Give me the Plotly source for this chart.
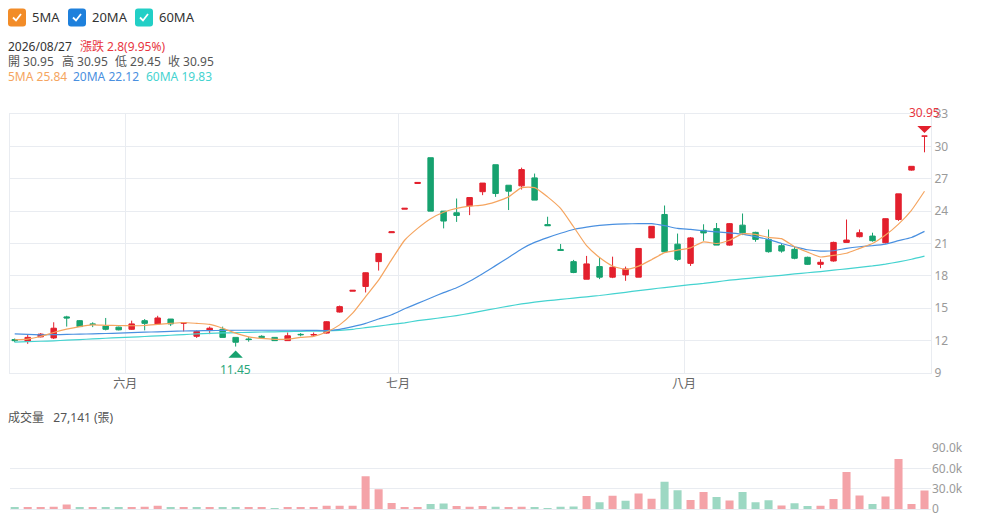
import pandas as pd
import plotly.graph_objects as go

# ---------------- data ----------------
HOLIDAYS = ["2026-06-19", "2026-07-24"]
DATES = [d for d in pd.bdate_range("2026-05-19", "2026-08-27").strftime("%Y-%m-%d") if d not in HOLIDAYS]
MONTH_NAMES = {5: "五月", 6: "六月", 7: "七月", 8: "八月"}

OPEN = [12.10, 11.92, 12.35, 12.25, 14.20, 13.85, 13.55, 13.35, 13.25, 13.05,
        13.85, 13.55, 14.00, 13.62, 12.40, 12.95, 13.05, 12.30, 12.15, 12.40,
        12.30, 12.00, 12.58, 12.52, 12.70, 14.65, 16.58, 17.02, 19.32, 22.00,
        24.18, 26.56, 28.95, 24.00, 23.85, 24.49, 25.80, 28.30, 26.40, 26.34,
        27.08, 22.75, 20.45, 19.32, 17.69, 18.86, 17.88, 18.09, 17.88, 21.52,
        23.69, 20.94, 19.16, 22.22, 22.38, 20.85, 22.70, 22.03, 21.38, 20.80,
        20.46, 19.72, 19.07, 19.38, 21.10, 21.63, 21.69, 21.07, 23.22, 27.80,
        30.95]
HIGH = [12.20, 12.55, 12.70, 13.70, 14.30, 13.90, 13.70, 14.10, 13.30, 13.85,
        14.00, 14.30, 14.00, 13.70, 12.95, 13.30, 13.30, 12.30, 12.35, 12.50,
        12.32, 12.75, 12.70, 12.75, 13.80, 15.25, 16.68, 18.31, 20.09, 22.10,
        24.28, 26.68, 28.95, 24.00, 25.17, 25.26, 26.60, 28.30, 26.40, 28.03,
        27.48, 23.48, 20.95, 19.48, 19.85, 19.68, 19.78, 18.86, 20.54, 22.59,
        24.52, 21.92, 21.60, 22.78, 22.90, 22.90, 23.78, 22.09, 22.30, 20.95,
        20.70, 19.78, 19.54, 21.17, 23.22, 22.30, 22.00, 23.32, 25.60, 28.15,
        30.95]
LOW = [11.85, 11.70, 12.30, 12.15, 13.30, 13.30, 13.25, 12.95, 12.95, 13.00,
       12.95, 13.50, 13.35, 12.85, 12.25, 12.60, 12.30, 11.45, 11.90, 12.25,
       11.98, 12.00, 12.40, 12.35, 12.65, 14.60, 16.58, 16.46, 18.49, 22.00,
       24.18, 26.56, 24.00, 22.40, 23.00, 23.63, 25.48, 25.32, 24.10, 26.00,
       25.02, 22.65, 20.35, 18.25, 17.69, 17.70, 17.79, 17.54, 17.88, 21.52,
       20.23, 19.40, 18.92, 21.25, 20.85, 20.80, 21.78, 21.16, 20.15, 20.15,
       19.54, 19.01, 18.71, 19.32, 21.10, 21.56, 21.17, 21.00, 23.10, 27.75,
       29.45]
CLOSE = [12.00, 12.30, 12.60, 13.15, 14.10, 13.30, 13.50, 13.05, 13.00, 13.55,
         13.60, 14.10, 13.55, 13.65, 12.85, 13.15, 12.30, 11.85, 12.10, 12.30,
         12.00, 12.45, 12.55, 12.56, 13.75, 15.15, 16.66, 18.29, 20.08, 22.08,
         24.26, 26.66, 24.00, 23.08, 23.60, 25.26, 26.60, 25.63, 25.85, 27.85,
         25.02, 22.65, 20.35, 18.31, 19.11, 17.88, 18.80, 18.64, 20.54, 22.59,
         20.23, 19.53, 21.52, 21.98, 20.85, 22.84, 21.99, 21.38, 20.24, 20.30,
         19.63, 19.07, 19.26, 21.10, 21.32, 22.00, 21.26, 23.30, 25.60, 28.15,
         30.95]
PREV_CLOSE = 12.10

VOLUME = [1500, 1500, 1500, 3400, 6800, 2900, 2400, 2900, 1900, 2900,
          3400, 4800, 2400, 2400, 1900, 1900, 2400, 2900, 1900, 1500,
          1000, 1500, 1500, 1900, 4800, 4800, 4800, 48400, 29000, 8700,
          2900, 2900, 7300, 8200, 4400, 3400, 4400, 3300, 2900, 3300,
          2400, 1400, 3300, 3800, 19100, 10000, 19600, 12000, 23000, 15300,
          40200, 27700, 13400, 24900, 17700, 12400, 24900, 10000, 12900, 5300,
          8600, 4300, 4800, 14800, 54500, 20100, 7200, 18600, 73600, 7200,
          27141]

MA5 = [12.08, 12.14, 12.38, 12.75, 13.06, 13.30, 13.46, 13.42, 13.40, 13.38,
       13.40, 13.50, 13.60, 13.68, 13.60, 13.50, 13.15, 12.69, 12.35, 12.20,
       12.12, 12.14, 12.30, 12.40, 12.80, 13.46, 14.54, 16.08, 17.60, 19.50,
       21.30, 22.40, 23.30, 23.90, 24.25, 24.46, 24.55, 24.86, 25.32, 26.18,
       26.18, 25.32, 24.25, 22.55, 20.80, 19.70, 18.92, 18.60, 18.90, 19.50,
       20.15, 20.38, 20.60, 21.15, 21.00, 21.30, 21.90, 21.84, 21.56, 21.45,
       20.70, 20.20, 19.75, 19.90, 20.10, 20.55, 21.00, 21.78, 22.80, 24.08,
       25.84]
MA20 = [12.63, 12.57, 12.54, 12.55, 12.58, 12.60, 12.63, 12.66, 12.70, 12.74,
        12.78, 12.82, 12.86, 12.89, 12.91, 12.93, 12.95, 12.96, 12.96, 12.96,
        12.96, 12.96, 12.96, 12.95, 12.93, 13.05, 13.30, 13.60, 14.00, 14.40,
        14.95, 15.45, 15.95, 16.45, 16.90, 17.50, 18.20, 18.95, 19.70, 20.50,
        21.10, 21.55, 21.95, 22.30, 22.52, 22.68, 22.78, 22.82, 22.84, 22.84,
        22.65, 22.40, 22.30, 22.18, 22.08, 21.98, 21.87, 21.63, 21.38, 21.00,
        20.70, 20.42, 20.30, 20.33, 20.55, 20.70, 20.80, 20.95, 21.26, 21.56,
        22.12]
MA60 = [11.86, 11.90, 11.94, 11.98, 12.04, 12.10, 12.16, 12.22, 12.28, 12.33,
        12.38, 12.44, 12.50, 12.56, 12.62, 12.67, 12.71, 12.74, 12.77, 12.80,
        12.82, 12.84, 12.86, 12.88, 12.90, 12.95, 13.05, 13.20, 13.35, 13.50,
        13.65, 13.85, 14.00, 14.15, 14.32, 14.52, 14.75, 14.98, 15.20, 15.40,
        15.56, 15.70, 15.82, 15.94, 16.06, 16.18, 16.33, 16.48, 16.63, 16.78,
        16.92, 17.05, 17.18, 17.30, 17.45, 17.60, 17.72, 17.83, 17.94, 18.05,
        18.18, 18.29, 18.40, 18.53, 18.65, 18.79, 18.92, 19.09, 19.30, 19.54,
        19.83]

PRICE_TICKS = [9, 12, 15, 18, 21, 24, 27, 30, 33]
VOL_TICKS = [0, 30000, 60000, 90000]
VOL_TICK_TEXT = ["0", "30.0k", "60.0k", "90.0k"]

# ---------------- style ----------------
W, H = 982, 519
RED = "#e3202d"
GREEN = "#17a26f"
VOL_RED = "#f4a3a8"
VOL_GREEN = "#9dd8c3"
C5, C20, C60 = "#f5a560", "#4a90e0", "#45d3d0"
GRID = "#e9ecf1"
FONT = "Noto Sans, Noto Sans CJK TC, sans-serif"
NB = "\u00a0"


def PX(x):
    return x / W


def PY(y):
    return 1 - y / H


X = list(range(len(DATES)))

# month boundaries
tickvals, ticktext = [], []
for i in range(1, len(DATES)):
    if DATES[i][5:7] != DATES[i - 1][5:7]:
        tickvals.append(i - 0.5)
        ticktext.append(MONTH_NAMES[int(DATES[i][5:7])])

prev = [PREV_CLOSE] + CLOSE[:-1]
vol_colors = [VOL_RED if c >= p else VOL_GREEN for c, p in zip(CLOSE, prev)]

fig = go.Figure()
fig.add_trace(go.Candlestick(
    x=X, open=OPEN, high=HIGH, low=LOW, close=CLOSE,
    increasing=dict(line=dict(color=RED, width=1), fillcolor=RED),
    decreasing=dict(line=dict(color=GREEN, width=1), fillcolor=GREEN),
    whiskerwidth=0, showlegend=False, hoverinfo="skip",
    xaxis="x", yaxis="y"))
for ma, col in ((MA60, C60), (MA20, C20), (MA5, C5)):
    fig.add_trace(go.Scatter(
        x=X, y=ma, mode="lines",
        line=dict(color=col, width=1.2, shape="spline", smoothing=0.5),
        showlegend=False, hoverinfo="skip", xaxis="x", yaxis="y"))
fig.add_trace(go.Bar(
    x=X, y=VOLUME, marker=dict(color=vol_colors, line=dict(width=0)),
    width=0.62, showlegend=False, hoverinfo="skip", xaxis="x2", yaxis="y2"))

x_dom = [PX(9.5), PX(931)]
xr = [-0.4, 70.5]

fig.update_layout(
    width=W, height=H, autosize=False, showlegend=False,
    margin=dict(l=0, r=0, t=0, b=0, pad=0, autoexpand=False),
    paper_bgcolor="white", plot_bgcolor="white",
    font=dict(family=FONT, size=12, color="#999"),
    boxgap=0.4,
    xaxis=dict(domain=x_dom, range=xr, anchor="y", automargin=False,
               tickvals=tickvals, ticktext=ticktext,
               tickfont=dict(size=12, color="#666"),
               showgrid=True, gridcolor=GRID, gridwidth=1,
               showline=True, linecolor=GRID, mirror=True,
               zeroline=False, ticks="", rangeslider=dict(visible=False),
               fixedrange=True),
    yaxis=dict(domain=[PY(373), PY(114)], range=[9, 33], anchor="x",
               automargin=False,
               side="right", tickvals=PRICE_TICKS,
               tickfont=dict(size=12, color="#9a9a9a"),
               showgrid=True, gridcolor=GRID, gridwidth=1,
               showline=True, linecolor=GRID, mirror=True,
               zeroline=False, ticks="", fixedrange=True),
    xaxis2=dict(domain=x_dom, range=xr, anchor="y2", automargin=False,
                showticklabels=False, showgrid=False,
                showline=True, linecolor=GRID,
                zeroline=False, ticks="", fixedrange=True),
    yaxis2=dict(domain=[PY(509), PY(448)], range=[0, 90000], anchor="x2",
                automargin=False,
                side="right", tickvals=VOL_TICKS, ticktext=VOL_TICK_TEXT,
                tickfont=dict(size=12, color="#9a9a9a"),
                showgrid=True, gridcolor=GRID, gridwidth=1,
                showline=False, zeroline=False, ticks="", fixedrange=True),
)

# high / low markers
hi_i = max(range(len(HIGH)), key=lambda i: HIGH[i])
lo_i = min(range(len(LOW)), key=lambda i: LOW[i])
fig.add_annotation(x=hi_i, y=HIGH[hi_i], xref="x", yref="y", text="",
                   showarrow=True, arrowhead=1, arrowsize=2.0, arrowwidth=1.2,
                   arrowcolor=RED, ax=0, ay=-10, standoff=3)
fig.add_annotation(x=hi_i, y=HIGH[hi_i], xref="x", yref="y",
                   text=f"{HIGH[hi_i]:.2f}", font=dict(size=12, color="#e8363f"),
                   showarrow=False, yshift=24, borderpad=0)
fig.add_annotation(x=lo_i, y=LOW[lo_i], xref="x", yref="y", text="",
                   showarrow=True, arrowhead=1, arrowsize=2.0, arrowwidth=1.2,
                   arrowcolor=GREEN, ax=0, ay=11, standoff=4)
fig.add_annotation(x=lo_i, y=LOW[lo_i], xref="x", yref="y",
                   text=f"{LOW[lo_i]:.2f}", font=dict(size=12, color="#2aa77a"),
                   showarrow=False, yshift=-23, borderpad=0)

# legend checkboxes
shapes = []


def rounded_box(x0, y0, x1, y1, r, color):
    p = (f"M {PX(x0 + r)},{PY(y0)} L {PX(x1 - r)},{PY(y0)} Q {PX(x1)},{PY(y0)} {PX(x1)},{PY(y0 + r)} "
         f"L {PX(x1)},{PY(y1 - r)} Q {PX(x1)},{PY(y1)} {PX(x1 - r)},{PY(y1)} "
         f"L {PX(x0 + r)},{PY(y1)} Q {PX(x0)},{PY(y1)} {PX(x0)},{PY(y1 - r)} "
         f"L {PX(x0)},{PY(y0 + r)} Q {PX(x0)},{PY(y0)} {PX(x0 + r)},{PY(y0)} Z")
    shapes.append(dict(type="path", xref="paper", yref="paper", path=p,
                       fillcolor=color, line=dict(width=0)))
    ck = f"M {PX(x0 + 5)},{PY(17.5)} L {PX(x0 + 8)},{PY(20.5)} L {PX(x0 + 13)},{PY(14)}"
    shapes.append(dict(type="path", xref="paper", yref="paper", path=ck,
                       line=dict(color="white", width=1.8)))


LEGEND = [("5MA", "#f28c28", 8), ("20MA", "#1e80dc", 68), ("60MA", "#22cfc6", 135)]
for name, col, x0 in LEGEND:
    rounded_box(x0, 8.5, x0 + 18, 26.5, 3, col)
    fig.add_annotation(x=PX(x0 + 23), y=PY(17.5), xref="paper", yref="paper",
                       text=name, showarrow=False, xanchor="left", yanchor="middle",
                       borderpad=0, font=dict(size=13, color="#333"))
fig.update_layout(shapes=shapes)


def label(x, y, text, color, size=12):
    fig.add_annotation(x=PX(x), y=PY(y), xref="paper", yref="paper", text=text,
                       showarrow=False, xanchor="left", yanchor="middle",
                       borderpad=0, font=dict(size=size, color=color))


last = len(DATES) - 1
chg = CLOSE[last] - CLOSE[last - 1]
pct = chg / CLOSE[last - 1] * 100
label(7, 46.5, DATES[last].replace("-", "/"), "#333")
label(79, 46.5, f"漲跌 {chg:.1f}({pct:.2f}%)", "#e8363f")
label(7, 61.5, f"開 {OPEN[last]:.2f}", "#555")
label(61, 61.5, f"高 {HIGH[last]:.2f}", "#555")
label(114, 61.5, f"低 {LOW[last]:.2f}", "#555")
label(167, 61.5, f"收 {CLOSE[last]:.2f}", "#555")
label(7, 76.5, f"5MA {MA5[last]:.2f}", C5)
label(72, 76.5, f"20MA {MA20[last]:.2f}", C20)
label(145, 76.5, f"60MA {MA60[last]:.2f}", C60)
label(7, 417, f"成交量{NB}{NB}{NB}{VOLUME[last]:,} (張)", "#555")

fig.write_html("out.html", config={"displayModeBar": False, "responsive": False},
               post_script="document.body.style.margin='0';document.documentElement.style.overflow='hidden';")
